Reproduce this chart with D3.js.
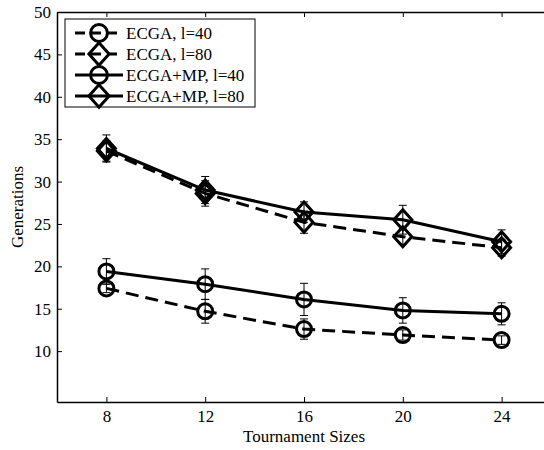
<!DOCTYPE html>
<html>
<head>
<meta charset="utf-8">
<script src="https://cdn.jsdelivr.net/npm/d3@7"></script>
<style>
  body { margin: 0; background: #fff; }
  svg text { font-family: "Liberation Serif", "Times New Roman", serif; fill: #000; }
</style>
</head>
<body>
<div id="chart"></div>
<script>
// tournament sizes on the x axis
const sizes = [8, 12, 16, 20, 24];

// mean generations + error bar half-lengths
const ecga40 = [17.4, 14.7, 12.6, 11.9, 11.3];
const ecga40Err = [0.5, 1.4, 1.2, 0.6, 0.5];
const ecga80 = [33.6, 28.6, 25.2, 23.5, 22.2];
const ecga80Err = [1.2, 1.5, 1.3, 0.9, 1.0];
const mp40 = [19.4, 17.9, 16.1, 14.8, 14.4];
const mp40Err = [1.5, 1.8, 1.9, 1.5, 1.3];
const mp80 = [33.9, 29.0, 26.4, 25.5, 22.9];
const mp80Err = [1.6, 1.6, 1.2, 1.7, 1.4];

const seriesNames = ["ECGA, l=40", "ECGA, l=80", "ECGA+MP, l=40", "ECGA+MP, l=80"];
const yTicks = [10, 15, 20, 25, 30, 35, 40, 45, 50];

const width = 544, height = 450;
const margins = { top: 12, bottom: 48, left: 57, right: -7 };
const serif = "'Liberation Serif', 'Times New Roman', serif";

const series = [
  { name: seriesNames[0], values: ecga40, err: ecga40Err, dashed: true, marker: "circle" },
  { name: seriesNames[1], values: ecga80, err: ecga80Err, dashed: true, marker: "diamond" },
  { name: seriesNames[2], values: mp40, err: mp40Err, dashed: false, marker: "circle" },
  { name: seriesNames[3], values: mp80, err: mp80Err, dashed: false, marker: "diamond" },
];

const svg = d3.select("#chart")
  .append("svg")
  .attr("width", width)
  .attr("height", height)
  .attr("font-family", serif);

const xScale = d3.scaleLinear()
  .domain([6, 26])
  .range([margins.left, width - margins.right]);

const yScale = d3.scaleLinear()
  .domain([4, 50])
  .range([height - margins.bottom, margins.top]);

// matlab-ish axes: ticks point inwards, box on
const xAxis = d3.axisBottom(xScale).tickValues(sizes).tickSizeInner(-5).tickSizeOuter(0).tickPadding(8);
const yAxis = d3.axisLeft(yScale).tickValues(yTicks).tickSizeInner(-5).tickSizeOuter(0).tickPadding(6);

svg.append("g")
  .attr("class", "axis x-axis")
  .attr("transform", `translate(0,${height - margins.bottom})`)
  .call(xAxis);

svg.append("g")
  .attr("class", "axis y-axis")
  .attr("transform", `translate(${margins.left},0)`)
  .call(yAxis);

// top edge with its own ticks
svg.append("g")
  .attr("class", "axis top-axis")
  .attr("transform", `translate(0,${margins.top})`)
  .call(d3.axisTop(xScale).tickValues(sizes).tickSizeInner(-5).tickSizeOuter(0).tickFormat(""));

svg.selectAll(".axis").attr("font-family", serif);
svg.selectAll(".axis path").attr("stroke", "#000").attr("stroke-width", 1.5);
svg.selectAll(".axis line").attr("stroke", "#000").attr("stroke-width", 1);
svg.selectAll(".axis text").style("font-size", "17px").attr("fill", "#000");

// axis labels
svg.append("text")
  .attr("x", (margins.left + width - margins.right) / 2)
  .attr("y", 442)
  .attr("text-anchor", "middle")
  .style("font-size", "17px")
  .text("Tournament Sizes");

svg.append("text")
  .attr("transform", `translate(23,${(margins.top + height - margins.bottom) / 2}) rotate(-90)`)
  .attr("text-anchor", "middle")
  .style("font-size", "17px")
  .text("Generations");

function drawMarker(g, type, cx, cy, k = 1) {
  if (type === "circle") {
    g.append("circle")
      .attr("cx", cx).attr("cy", cy).attr("r", 7.5 * k)
      .attr("fill", "none").attr("stroke", "#000").attr("stroke-width", 3);
  } else {
    const hw = 9 * k, hh = 10 * k;
    g.append("path")
      .attr("d", `M${cx},${cy - hh}L${cx + hw},${cy}L${cx},${cy + hh}L${cx - hw},${cy}Z`)
      .attr("fill", "none").attr("stroke", "#000").attr("stroke-width", 3);
  }
}

const line = d3.line()
  .x(d => xScale(d.x))
  .y(d => yScale(d.y));

const plot = svg.append("g").attr("class", "series-container");

series.forEach(s => {
  const pts = sizes.map((x, i) => ({ x: x, y: s.values[i], e: s.err[i] }));
  const g = plot.append("g").attr("class", "series");

  // error bars
  g.selectAll("g.err")
    .data(pts)
    .join("g")
    .attr("class", "err")
    .each(function(d) {
      const eg = d3.select(this);
      const x = xScale(d.x), y0 = yScale(d.y - d.e), y1 = yScale(d.y + d.e);
      eg.append("line").attr("x1", x).attr("x2", x).attr("y1", y0).attr("y2", y1);
      eg.append("line").attr("x1", x - 4).attr("x2", x + 4).attr("y1", y0).attr("y2", y0);
      eg.append("line").attr("x1", x - 4).attr("x2", x + 4).attr("y1", y1).attr("y2", y1);
    })
    .selectAll("line")
    .attr("stroke", "#000")
    .attr("stroke-width", 1);

  g.append("path")
    .datum(pts)
    .attr("d", line)
    .attr("fill", "none")
    .attr("stroke", "#000")
    .attr("stroke-width", 3)
    .attr("stroke-dasharray", s.dashed ? "13,7" : null);

  pts.forEach(d => drawMarker(g, s.marker, xScale(d.x), yScale(d.y)));
});

// legend box top-left
const legend = svg.append("g").attr("class", "legend");
legend.append("rect")
  .attr("x", 65).attr("y", 19)
  .attr("width", 190).attr("height", 88)
  .attr("fill", "#fff")
  .attr("stroke", "#000")
  .attr("stroke-width", 1);

series.forEach((s, i) => {
  const y = 33 + i * 21;
  const row = legend.append("g");
  row.append("line")
    .attr("x1", 75).attr("x2", 123)
    .attr("y1", y).attr("y2", y)
    .attr("stroke", "#000")
    .attr("stroke-width", 3)
    .attr("stroke-dasharray", s.dashed ? "10,6" : null);
  drawMarker(row, s.marker, 99, y, 1.12);
  row.append("text")
    .attr("x", 126)
    .attr("y", y)
    .attr("dy", "0.35em")
    .style("font-size", "17px")
    .text(s.name);
});
</script>
</body>
</html>
